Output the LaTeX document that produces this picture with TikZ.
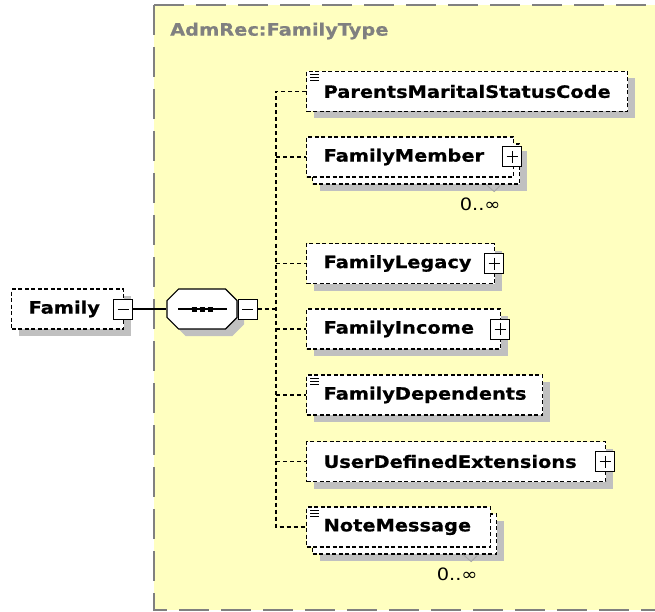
\documentclass[tikz,border=0pt]{standalone}
\usepackage{fontspec}
\usepackage{tikz}
\usetikzlibrary{
    positioning,
    shadows,
    shapes.misc
}
\newfontfamily\xsdfont{DejaVu Sans}[FakeStretch=1.14,BoldFeatures={FakeBold=0.6}]

\begin{document}
\begin{tikzpicture}[x=1pt,y=-1pt,
    font=\xsdfont\fontsize{17pt}{20pt}\selectfont,
    shadowed/.style={drop shadow={shadow xshift=7pt,shadow yshift=-7pt,fill=shadowgray,opacity=1}},
    elem/.style={draw=black,fill=white,line width=1.2pt,dash pattern=on 4pt off 2.5pt,
        anchor=west,minimum height=40pt,inner xsep=17pt,inner ysep=0pt,
        text width=#1,align=left,font=\xsdfont\bfseries\fontsize{17pt}{20pt}\selectfont},
    seqbox/.style={chamfered rectangle,chamfered rectangle xsep=5.8pt,chamfered rectangle ysep=5.8pt,
        draw=black,fill=white,line width=1.2pt,inner sep=0pt},
    expander/.style={draw=black,solid,line width=1pt,fill=white,minimum width=19pt,minimum height=20pt,inner sep=0pt},
    plusbox/.style={expander,path picture={
        \draw[line width=1pt] ([xshift=4pt]path picture bounding box.west) -- ([xshift=-4pt]path picture bounding box.east)
            ([yshift=-4pt]path picture bounding box.north) -- ([yshift=4pt]path picture bounding box.south);}},
    minusbox/.style={expander,path picture={
        \draw[line width=1pt] ([xshift=4pt]path picture bounding box.west) -- ([xshift=-4pt]path picture bounding box.east);}},
    link/.style={line width=1.2pt},
    branch/.style={line width=1.2pt,dash pattern=on 4pt off 3pt},
    occ/.style={inner sep=0pt,font=\xsdfont\fontsize{17pt}{20pt}\selectfont},
    typeborder/.style={draw=typegray,line width=2pt,dash pattern=on 30pt off 12pt}
]
    \definecolor{typebg}{HTML}{FFFFC0}
    \definecolor{typegray}{HTML}{808080}
    \definecolor{shadowgray}{HTML}{C0C0C0}

    \useasboundingbox (0,0) rectangle (655,612);
    \fill[white] (0,0) rectangle (655,612);

    % complex type area
    \fill[typebg] (154,5) rectangle (700,610);
    \draw[typeborder] (154,5) -- (700,5);
    \draw[typeborder] (154,5) -- (154,610) -- (700,610);
    \node[anchor=west,inner sep=0pt,text=typegray,font=\xsdfont\bfseries\fontsize{17pt}{20pt}\selectfont]
        (typename) at (170,31) {AdmRec:FamilyType};

    % root element and sequence
    \node[elem=78pt,shadowed] (family) at (11,309) {Family};
    \node[minusbox] (famminus) at ([xshift=-1pt]family.east) {};
    \node[seqbox,shadowed] (seq) at (202,309) {\hbox to 58.4pt{\vrule width 0pt height 14.2pt depth 14.2pt\hfil}};
    \draw[link] ([xshift=-24pt]seq.center) -- ([xshift=25pt]seq.center);
    \draw[line width=5pt,dash pattern=on 5pt off 3pt] ([xshift=-10.5pt]seq.center) -- ([xshift=10.5pt]seq.center);
    \node[minusbox,right=0pt of seq] (seqminus) {};
    \draw[link] (famminus) -- (seq);

    % child elements
    \node[elem=287pt,shadowed] (pmsc) at (306,91.5) {ParentsMaritalStatusCode};
    \node[elem=173pt,shadowed] (memberbk) at (312,164) {};
    \node[elem=173pt] (member) at (306,157) {FamilyMember};
    \node[plusbox] (memberplus) at ([xshift=-2pt]member.east) {};
    \node[elem=154pt,shadowed] (legacy) at (306,263.5) {FamilyLegacy};
    \node[plusbox] (legacyplus) at ([xshift=-1pt]legacy.east) {};
    \node[elem=160pt,shadowed] (income) at (306,329) {FamilyIncome};
    \node[plusbox] (incomeplus) at ([xshift=-1pt]income.east) {};
    \node[elem=202pt,shadowed] (dependents) at (306,395) {FamilyDependents};
    \node[elem=265pt,shadowed] (ude) at (306,461.5) {UserDefinedExtensions};
    \node[plusbox] (udeplus) at ([xshift=-1pt]ude.east) {};
    \node[elem=150pt,shadowed] (notebk) at (312,534) {};
    \node[elem=150pt] (note) at (306,527) {NoteMessage};

    % simple content marks
    \foreach \e in {pmsc,dependents,note}
        \foreach \dy in {4,7,10}
            \draw[line width=1.1pt] ([xshift=4pt,yshift=-\dy pt]\e.north west) -- ++(9pt,0pt);

    % occurrences
    \foreach \e in {memberbk,notebk}{
        \draw[gray!70,line width=0.8pt] ([xshift=-34pt]\e.south east) -- ++(8pt,-7pt) -- ++(6pt,6pt);
        \node[occ] (\e occ) at ([xshift=-40pt,yshift=-20pt]\e.south east) {0..∞};
    }

    % connectors
    \coordinate (bus) at (276,309);
    \draw[branch] (seqminus) -- (bus);
    \draw[branch] (pmsc.west) -| (bus) |- (note.west);
    \foreach \e in {member,legacy,income,dependents,ude}
        \draw[branch] (bus |- \e.west) -- (\e.west);
\end{tikzpicture}
\end{document}
